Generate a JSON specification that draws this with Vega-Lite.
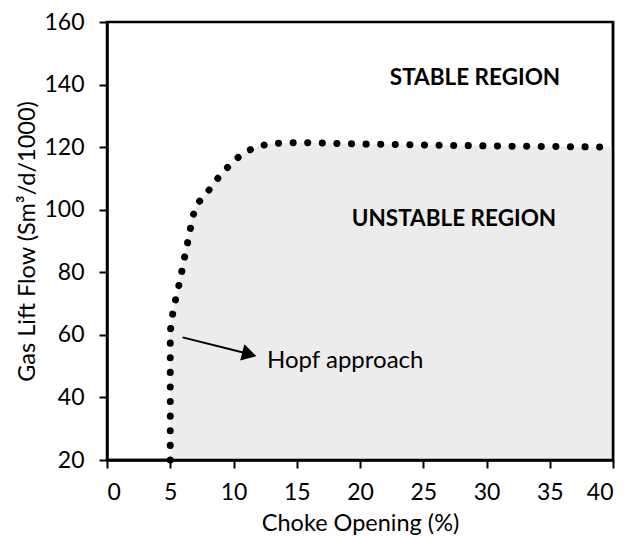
{
  "$schema": "https://vega.github.io/schema/vega-lite/v6.json",
  "autosize": {"type": "none"},
  "width": 506,
  "height": 438,
  "padding": {"left": 107, "top": 22, "right": 15, "bottom": 77},
  "background": "white",
  "view": {"stroke": "black", "strokeWidth": 2.5, "fill": null},
  "config": {
    "font": "Lato",
    "view": {"stroke": "black", "strokeWidth": 2.5},
    "axis": {
      "grid": false,
      "domainColor": "black",
      "domainWidth": 2.5,
      "tickColor": "black",
      "tickWidth": 2,
      "tickSize": 8,
      "labelFont": "Lato",
      "labelFontSize": 23,
      "labelColor": "black",
      "titleFont": "Lato",
      "titleFontSize": 23.5,
      "titleFontWeight": "normal",
      "titleColor": "black"
    }
  },
  "datasets": {
    "boundary": [
      {"order": 1, "choke": 5, "flow": 20},
      {"order": 2, "choke": 5, "flow": 61},
      {"order": 3, "choke": 5.16, "flow": 66},
      {"order": 4, "choke": 5.38, "flow": 70.6},
      {"order": 5, "choke": 5.64, "flow": 75},
      {"order": 6, "choke": 5.87, "flow": 79.4},
      {"order": 7, "choke": 6.09, "flow": 84},
      {"order": 8, "choke": 6.32, "flow": 88.5},
      {"order": 9, "choke": 6.54, "flow": 92.8},
      {"order": 10, "choke": 6.74, "flow": 97.3},
      {"order": 11, "choke": 7.09, "flow": 101.7},
      {"order": 12, "choke": 7.85, "flow": 105.1},
      {"order": 13, "choke": 8.5, "flow": 108.8},
      {"order": 14, "choke": 9.22, "flow": 112.2},
      {"order": 15, "choke": 10, "flow": 115.5},
      {"order": 16, "choke": 10.85, "flow": 118.3},
      {"order": 17, "choke": 11.9, "flow": 120.2},
      {"order": 18, "choke": 13, "flow": 121.2},
      {"order": 19, "choke": 15.3, "flow": 121.5},
      {"order": 20, "choke": 20, "flow": 121},
      {"order": 21, "choke": 30, "flow": 120.4},
      {"order": 22, "choke": 40, "flow": 120}
    ],
    "regions": [
      {"label": "STABLE REGION", "choke": 29.09, "flow": 139.8},
      {"label": "UNSTABLE REGION", "choke": 27.43, "flow": 94.8}
    ],
    "hopf": [
      {"label": "Hopf approach", "choke": 12.65, "flow": 49.4}
    ],
    "arrow": [
      {"choke": 5.98, "flow": 59.2, "choke2": 11.0, "flow2": 54.1}
    ],
    "arrowhead": [
      {"choke": 11.25, "flow": 53.8}
    ],
    "border": [
      {"choke": 40, "choke2": 40, "low": 20, "high": 160},
      {"choke": 0, "choke2": 40, "low": 20, "high": 20}
    ]
  },
  "layer": [
    {
      "data": {"name": "boundary"},
      "mark": {"type": "area", "color": "#ececec", "opacity": 1, "interpolate": "linear"},
      "encoding": {
        "x": {"field": "choke", "type": "quantitative", "scale": {"domain": [0, 40]},
              "axis": {"zindex": 1, "values": [0, 5, 10, 15, 20, 25, 30, 35, 40], "title": "Choke Opening (%)", "labelPadding": 13, "titleY": 70, "titleBaseline": "alphabetic"}},
        "y": {"field": "flow", "type": "quantitative", "scale": {"domain": [20, 160]}, "stack": null,
              "axis": {"zindex": 1, "values": [20, 40, 60, 80, 100, 120, 140, 160], "title": "Gas Lift Flow (Sm³/d/1000)", "labelPadding": 15, "titleX": -80, "titleBaseline": "middle"}},
        "y2": {"datum": 20}
      }
    },
    {
      "data": {"name": "border"},
      "mark": {"type": "rule", "color": "black", "strokeWidth": 2.5},
      "encoding": {
        "x": {"field": "choke", "type": "quantitative"},
        "x2": {"field": "choke2"},
        "y": {"field": "low", "type": "quantitative"},
        "y2": {"field": "high"}
      }
    },
    {
      "data": {"name": "boundary"},
      "mark": {"type": "line", "color": "black", "strokeWidth": 7, "strokeCap": "round", "strokeDash": [0.1, 14.5]},
      "encoding": {
        "x": {"field": "choke", "type": "quantitative"},
        "y": {"field": "flow", "type": "quantitative"},
        "order": {"field": "order"}
      }
    },
    {
      "data": {"name": "regions"},
      "mark": {"type": "text", "fontWeight": "bold", "fontSize": 22.5, "align": "center", "baseline": "alphabetic", "color": "black", "font": "Lato"},
      "encoding": {
        "x": {"field": "choke", "type": "quantitative"},
        "y": {"field": "flow", "type": "quantitative"},
        "text": {"field": "label"}
      }
    },
    {
      "data": {"name": "hopf"},
      "mark": {"type": "text", "fontSize": 24, "align": "left", "baseline": "alphabetic", "color": "black", "font": "Lato"},
      "encoding": {
        "x": {"field": "choke", "type": "quantitative"},
        "y": {"field": "flow", "type": "quantitative"},
        "text": {"field": "label"}
      }
    },
    {
      "data": {"name": "arrow"},
      "mark": {"type": "rule", "color": "black", "strokeWidth": 2},
      "encoding": {
        "x": {"field": "choke", "type": "quantitative"},
        "y": {"field": "flow", "type": "quantitative"},
        "x2": {"field": "choke2"},
        "y2": {"field": "flow2"}
      }
    },
    {
      "data": {"name": "arrowhead"},
      "mark": {"type": "point", "shape": "triangle-right", "filled": true, "color": "black", "size": 280, "angle": 14.5, "opacity": 1},
      "encoding": {
        "x": {"field": "choke", "type": "quantitative"},
        "y": {"field": "flow", "type": "quantitative"}
      }
    }
  ]
}
